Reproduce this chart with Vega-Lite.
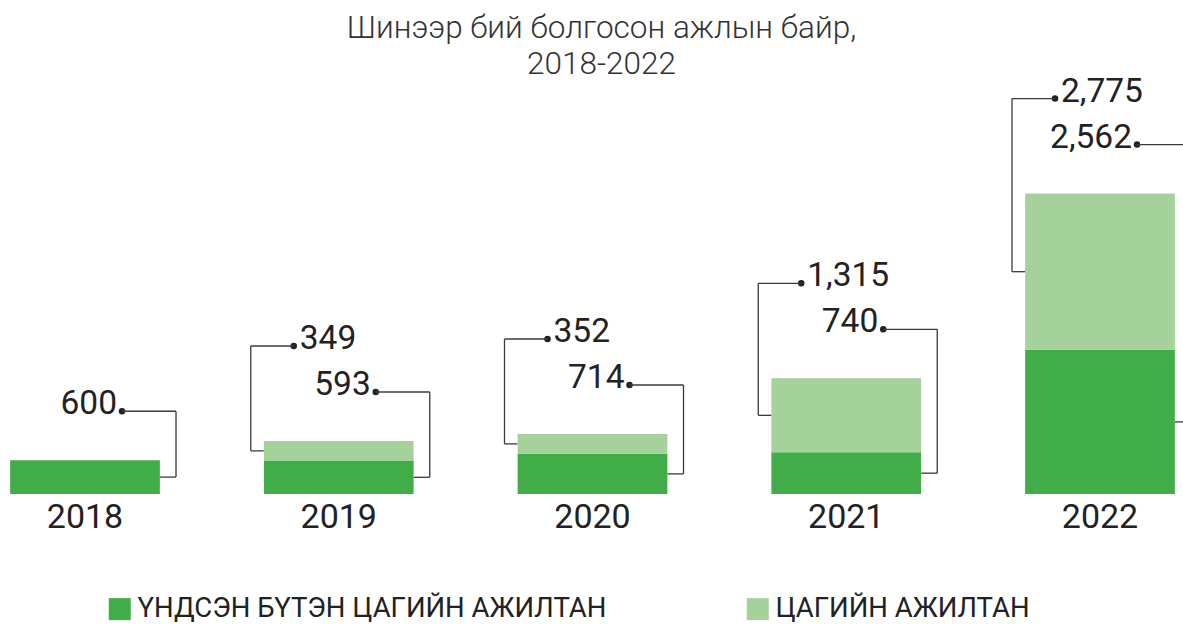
{
  "$schema": "https://vega.github.io/schema/vega-lite/v6.json",
  "width": 1185,
  "height": 394,
  "autosize": {"type": "none"},
  "padding": {"left": 0, "top": 100, "right": 0, "bottom": 130},
  "background": "#ffffff",
  "title": {
    "text": ["Шинээр бий болгосон ажлын байр,", "2018-2022"],
    "font": "Roboto",
    "fontWeight": 300,
    "fontSize": 31.5,
    "lineHeight": 36,
    "color": "#333333",
    "anchor": "middle",
    "dx": 9,
    "dy": 25,
    "offset": 19
  },
  "config": {
    "view": {"stroke": null},
    "font": "Roboto"
  },
  "data": {
    "values": [
      {"year": "2018", "type": "ҮНДСЭН БҮТЭН ЦАГИЙН АЖИЛТАН", "value": 600},
      {"year": "2019", "type": "ҮНДСЭН БҮТЭН ЦАГИЙН АЖИЛТАН", "value": 593},
      {"year": "2019", "type": "ЦАГИЙН АЖИЛТАН", "value": 349},
      {"year": "2020", "type": "ҮНДСЭН БҮТЭН ЦАГИЙН АЖИЛТАН", "value": 714},
      {"year": "2020", "type": "ЦАГИЙН АЖИЛТАН", "value": 352},
      {"year": "2021", "type": "ҮНДСЭН БҮТЭН ЦАГИЙН АЖИЛТАН", "value": 740},
      {"year": "2021", "type": "ЦАГИЙН АЖИЛТАН", "value": 1315},
      {"year": "2022", "type": "ҮНДСЭН БҮТЭН ЦАГИЙН АЖИЛТАН", "value": 2562},
      {"year": "2022", "type": "ЦАГИЙН АЖИЛТАН", "value": 2775}
    ]
  },
  "transform": [
    {"stack": "value", "groupby": ["year"], "sort": [{"field": "type", "order": "descending"}], "as": ["v0", "v1"]},
    {"joinaggregate": [{"op": "sum", "field": "value", "as": "total"}], "groupby": ["year"]},
    {"fold": ["v0", "v1"], "as": ["edge", "pos"]},
    {"aggregate": [
      {"op": "mean", "field": "pos", "as": "mid"},
      {"op": "min", "field": "pos", "as": "lo"},
      {"op": "max", "field": "pos", "as": "hi"}
    ], "groupby": ["year", "type", "value", "total"]}
  ],
  "encoding": {
    "x": {
      "field": "year",
      "type": "ordinal",
      "scale": {"paddingInner": 0.41, "paddingOuter": 0.04},
      "axis": {
        "title": null,
        "domain": false,
        "ticks": false,
        "labelAngle": 0,
        "labelFont": "Roboto",
        "labelFontSize": 34,
        "labelColor": "#222222",
        "labelPadding": 6
      }
    }
  },
  "layer": [
    {
      "mark": {"type": "bar"},
      "encoding": {
        "y": {"field": "lo", "type": "quantitative", "stack": null, "scale": {"domain": [0, 6720]}, "axis": null},
        "y2": {"field": "hi"},
        "color": {
          "field": "type",
          "type": "nominal",
          "scale": {"domain": ["ҮНДСЭН БҮТЭН ЦАГИЙН АЖИЛТАН", "ЦАГИЙН АЖИЛТАН"], "range": ["#41ad49", "#a5d19b"]},
          "legend": {
            "title": null,
            "orient": "none",
            "legendX": 106,
            "legendY": 495,
            "direction": "horizontal",
            "symbolType": "square",
            "symbolSize": 484,
            "symbolStrokeWidth": 0,
            "labelFont": "Roboto",
            "labelFontSize": 27.5,
            "labelColor": "#222222",
            "labelOffset": 4,
            "labelLimit": 800,
            "columnPadding": 137,
            "padding": 0
          }
        }
      }
    },
    {
      "transform": [{"filter": "datum.type === 'ЦАГИЙН АЖИЛТАН'"}],
      "mark": {"type": "text", "align": "left", "baseline": "alphabetic", "font": "Roboto", "fontSize": 33.5, "color": "#222222", "xOffset": -39, "yOffset": -92},
      "encoding": {
        "y": {"field": "total", "type": "quantitative"},
        "text": {"field": "value", "type": "quantitative", "format": ","}
      }
    },
    {
      "transform": [{"filter": "datum.type !== 'ЦАГИЙН АЖИЛТАН'"}],
      "mark": {"type": "text", "align": "right", "baseline": "alphabetic", "font": "Roboto", "fontSize": 33.5, "color": "#222222", "xOffset": 32, "yOffset": -46},
      "encoding": {
        "y": {"field": "total", "type": "quantitative"},
        "text": {"field": "value", "type": "quantitative", "format": ","}
      }
    },
    {
      "transform": [{"filter": "datum.type === 'ЦАГИЙН АЖИЛТАН'"}],
      "mark": {"type": "circle", "size": 42, "opacity": 1, "color": "#222222", "xOffset": -45, "yOffset": -95},
      "encoding": {"y": {"field": "total", "type": "quantitative"}}
    },
    {
      "transform": [{"filter": "datum.type !== 'ЦАГИЙН АЖИЛТАН'"}],
      "mark": {"type": "circle", "size": 42, "opacity": 1, "color": "#222222", "xOffset": 37, "yOffset": -49},
      "encoding": {"y": {"field": "total", "type": "quantitative"}}
    },
    {
      "transform": [{"filter": "datum.type === 'ЦАГИЙН АЖИЛТАН'"}],
      "mark": {"type": "tick", "orient": "horizontal", "size": 43, "thickness": 1.3, "opacity": 1, "color": "#3a3a3a", "xOffset": -66.5, "yOffset": -95},
      "encoding": {"y": {"field": "total", "type": "quantitative"}}
    },
    {
      "transform": [{"filter": "datum.type === 'ЦАГИЙН АЖИЛТАН'"}],
      "mark": {"type": "rule", "strokeWidth": 1.3, "color": "#3a3a3a", "xOffset": -88, "yOffset": -95},
      "encoding": {"y": {"field": "total", "type": "quantitative"}, "y2": {"field": "mid"}}
    },
    {
      "transform": [{"filter": "datum.type === 'ЦАГИЙН АЖИЛТАН'"}],
      "mark": {"type": "tick", "orient": "horizontal", "size": 13, "thickness": 1.3, "opacity": 1, "color": "#3a3a3a", "xOffset": -81.5},
      "encoding": {"y": {"field": "mid", "type": "quantitative"}}
    },
    {
      "transform": [{"filter": "datum.type !== 'ЦАГИЙН АЖИЛТАН'"}],
      "mark": {"type": "tick", "orient": "horizontal", "size": 54, "thickness": 1.3, "opacity": 1, "color": "#3a3a3a", "xOffset": 64, "yOffset": -49},
      "encoding": {"y": {"field": "total", "type": "quantitative"}}
    },
    {
      "transform": [{"filter": "datum.type !== 'ЦАГИЙН АЖИЛТАН'"}],
      "mark": {"type": "rule", "strokeWidth": 1.3, "color": "#3a3a3a", "xOffset": 91, "yOffset": -49},
      "encoding": {"y": {"field": "total", "type": "quantitative"}, "y2": {"field": "mid"}}
    },
    {
      "transform": [{"filter": "datum.type !== 'ЦАГИЙН АЖИЛТАН'"}],
      "mark": {"type": "tick", "orient": "horizontal", "size": 16, "thickness": 1.3, "opacity": 1, "color": "#3a3a3a", "xOffset": 83},
      "encoding": {"y": {"field": "mid", "type": "quantitative"}}
    }
  ]
}
